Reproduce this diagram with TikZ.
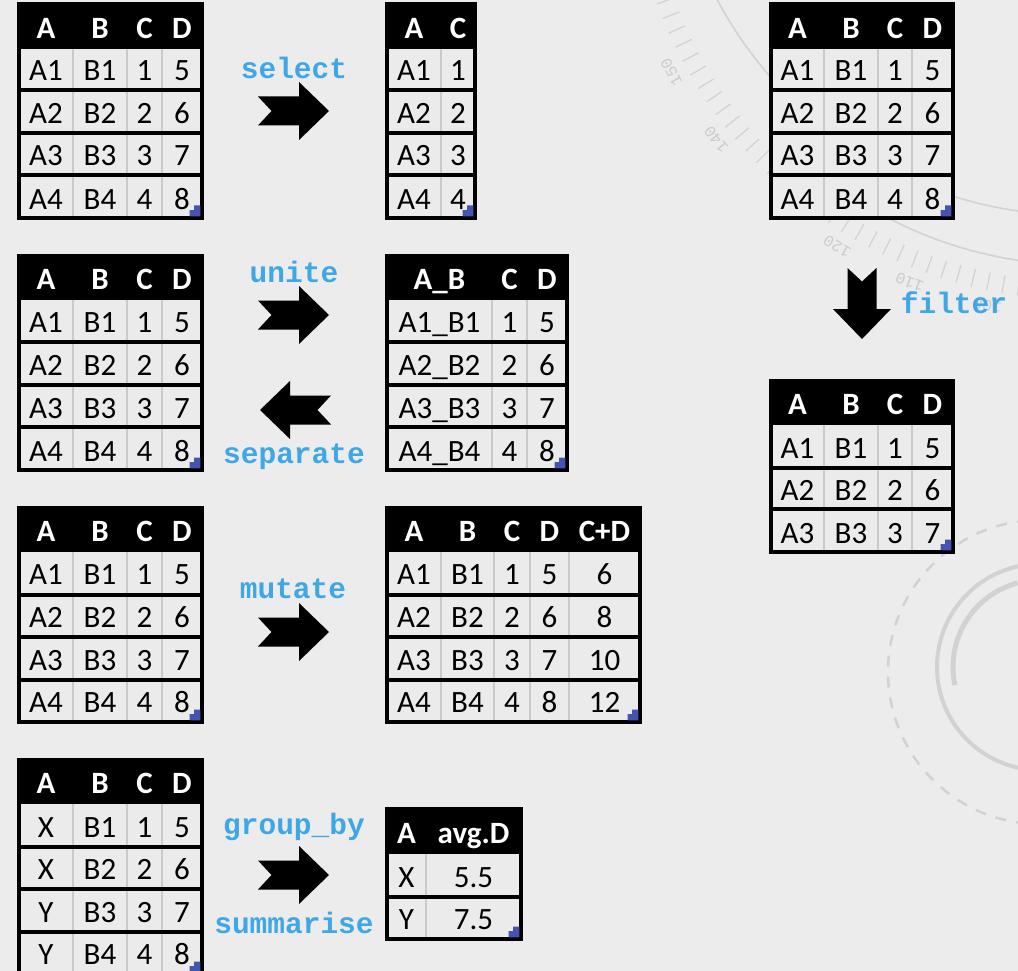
\documentclass[tikz,border=0pt]{standalone}
\usepackage{fontspec}
\setmainfont{Carlito}
\newfontfamily\lblfont{Liberation Mono}
\definecolor{bg}{HTML}{ECECEC}
\definecolor{cellbg}{HTML}{EBEBEB}
\definecolor{gridgrey}{HTML}{CACACA}
\definecolor{lblblue}{HTML}{3FA7E6}
\definecolor{markblue}{HTML}{4454B0}
\definecolor{deco}{HTML}{D2D2D2}
\definecolor{decotxt}{HTML}{CBCBCB}
\tikzset{
  tcell/.style={anchor=base,inner sep=0pt,font=\fontsize{31}{31}\selectfont,text=black},
  thead/.style={anchor=base,inner sep=0pt,font=\fontsize{31}{31}\selectfont\bfseries,text=white},
  oplabel/.style={anchor=base,inner sep=0pt,font=\lblfont\fontsize{29.5}{30}\selectfont\bfseries,text=lblblue},
  vgrid/.style={draw=gridgrey,line width=2.5pt},
  hrule/.style={draw=black,line width=3.5pt},
  tblframe/.style={draw=black,line width=3.5pt},
  decoline/.style={draw=deco,line width=1.6pt},
  blockarrow/.pic={\fill[black] (0,-14.5) -- (41,-14.5) -- (41,-29) -- (71,0) -- (41,29) -- (41,14.5) -- (0,14.5) -- (13.5,0) -- cycle;},
}
\newcommand\tmark[2]{\fill[markblue] ({#1-12.5},{#2-1.75}) -- ({#1-12.5},{#2-8}) -- ({#1-8},{#2-8}) -- ({#1-8},{#2-12.5}) -- ({#1-1.75},{#2-12.5}) -- ({#1-1.75},{#2-1.75}) -- cycle;}
% x0 x1 y0 yh yb innerx innery
\newcommand\drawtable[7]{%
  \fill[cellbg] (#1,#4) rectangle (#2,#5);
  \fill[black] (#1,#3) rectangle (#2,#4);
  \foreach \gx in {#6} {\draw[vgrid] (\gx,#4) -- (\gx,#5);}
  \foreach \gy in {#7} {\draw[hrule] (#1,\gy) -- (#2,\gy);}
  \draw[tblframe] (#1,#3) rectangle (#2,#5);
  \tmark{#2}{#5}%
}
\newcommand\trow[4]{\foreach \cx/\tx [count=\k] in {#4} {\node[#2] (#1-\k) at (\cx,#3) {\tx};}}
\begin{document}
\begin{tikzpicture}[x=1pt,y=-1pt]
\path[use as bounding box,clip] (0,0) rectangle (1018,971);
\fill[bg] (0,0) rectangle (1018,971);
% background decorations (faint protractor and rings)
\draw[decoline] plot[domain=80:160,samples=60] ({1075+405*cos(\x)},{-190+405*sin(\x)});
\draw[decoline] plot[domain=88:122,samples=40] ({1080+415*cos(\x)},{-150+415*sin(\x)});
\foreach \a in {92,94,...,160} {\draw[draw=deco,line width=1.2pt] ({1080+432*cos(\a)},{-150+432*sin(\a)}) -- ({1080+450*cos(\a)},{-150+450*sin(\a)});}
\foreach \n in {150,140,120,110,100} {\node[text=decotxt,font=\lblfont\fontsize{16}{16}\selectfont,rotate={268.5-\n}] (deco\n) at ({1080+465*cos(\n+1.5)},{-150+465*sin(\n+1.5)}) {\n};}
\draw[draw=deco,line width=4pt] (1040,667) circle[radius=103];
\draw[draw=deco,line width=5pt] plot[domain=168:255,samples=40] ({1040+87*cos(\x)},{667+87*sin(\x)});
\draw[draw=deco,line width=2.5pt,dash pattern=on 11pt off 10pt] (1040,672) circle[radius=152];

% ---- select ----
\drawtable{19}{202}{4}{49}{218}{73,127,162}{90,133,175}
\trow{t1h}{thead}{38.5}{46/A,100/B,144.5/C,182/D}
\trow{t1a}{tcell}{81}{46/A1,100/B1,144.5/1,182/5}
\trow{t1b}{tcell}{124}{46/A2,100/B2,144.5/2,182/6}
\trow{t1c}{tcell}{166}{46/A3,100/B3,144.5/3,182/7}
\trow{t1d}{tcell}{209}{46/A4,100/B4,144.5/4,182/8}
\node[oplabel] (lselect) at (294,79) {select};
\pic at (258,111) {blockarrow};
\drawtable{387}{475}{4}{49}{218}{441}{90,133,175}
\trow{s1h}{thead}{38.5}{414/A,458/C}
\trow{s1a}{tcell}{81}{414/A1,458/1}
\trow{s1b}{tcell}{124}{414/A2,458/2}
\trow{s1c}{tcell}{166}{414/A3,458/3}
\trow{s1d}{tcell}{209}{414/A4,458/4}

% ---- filter ----
\drawtable{771}{953}{4}{49}{218}{824,878,912}{90,133,175}
\trow{f0h}{thead}{38.5}{797.5/A,851/B,895/C,932.5/D}
\trow{f0a}{tcell}{81}{797.5/A1,851/B1,895/1,932.5/5}
\trow{f0b}{tcell}{124}{797.5/A2,851/B2,895/2,932.5/6}
\trow{f0c}{tcell}{166}{797.5/A3,851/B3,895/3,932.5/7}
\trow{f0d}{tcell}{209}{797.5/A4,851/B4,895/4,932.5/8}
\pic[rotate=-90] at (862,268) {blockarrow};
\node[oplabel] (lfilter) at (954,313) {filter};
\drawtable{771}{953}{381}{425}{552}{824,878,912}{468,509}
\trow{f1h}{thead}{414.5}{797.5/A,851/B,895/C,932.5/D}
\trow{f1a}{tcell}{458.5}{797.5/A1,851/B1,895/1,932.5/5}
\trow{f1b}{tcell}{500}{797.5/A2,851/B2,895/2,932.5/6}
\trow{f1c}{tcell}{543}{797.5/A3,851/B3,895/3,932.5/7}

% ---- unite / separate ----
\drawtable{19}{202}{256}{300}{470}{73,127,162}{342,385,427}
\trow{t2h}{thead}{289.5}{46/A,100/B,144.5/C,182/D}
\trow{t2a}{tcell}{332.5}{46/A1,100/B1,144.5/1,182/5}
\trow{t2b}{tcell}{375.5}{46/A2,100/B2,144.5/2,182/6}
\trow{t2c}{tcell}{418}{46/A3,100/B3,144.5/3,182/7}
\trow{t2d}{tcell}{461}{46/A4,100/B4,144.5/4,182/8}
\node[oplabel] (lunite) at (294,282) {unite};
\pic at (258,315) {blockarrow};
\pic[xscale=-1] at (331,410) {blockarrow};
\node[oplabel] (lseparate) at (294,463) {separate};
\drawtable{387}{567}{256}{300}{470}{492,527}{342,385,427}
\trow{u1h}{thead}{289.5}{439.5/A\_B,509.5/C,547/D}
\trow{u1a}{tcell}{332.5}{439.5/A1\_B1,509.5/1,547/5}
\trow{u1b}{tcell}{375.5}{439.5/A2\_B2,509.5/2,547/6}
\trow{u1c}{tcell}{418}{439.5/A3\_B3,509.5/3,547/7}
\trow{u1d}{tcell}{461}{439.5/A4\_B4,509.5/4,547/8}

% ---- mutate ----
\drawtable{19}{202}{508}{552}{722}{73,127,162}{595,637,680}
\trow{t3h}{thead}{541.5}{46/A,100/B,144.5/C,182/D}
\trow{t3a}{tcell}{584.5}{46/A1,100/B1,144.5/1,182/5}
\trow{t3b}{tcell}{627}{46/A2,100/B2,144.5/2,182/6}
\trow{t3c}{tcell}{670}{46/A3,100/B3,144.5/3,182/7}
\trow{t3d}{tcell}{712}{46/A4,100/B4,144.5/4,182/8}
\node[oplabel] (lmutate) at (293,598) {mutate};
\pic at (258,632) {blockarrow};
\drawtable{387}{640}{508}{552}{722}{441,494,530,569}{595,637,680}
\trow{m1h}{thead}{541.5}{414/A,467.5/B,512/C,549.5/D,604.5/C+D}
\trow{m1a}{tcell}{584.5}{414/A1,467.5/B1,512/1,549.5/5,604.5/6}
\trow{m1b}{tcell}{627}{414/A2,467.5/B2,512/2,549.5/6,604.5/8}
\trow{m1c}{tcell}{670}{414/A3,467.5/B3,512/3,549.5/7,604.5/10}
\trow{m1d}{tcell}{712}{414/A4,467.5/B4,512/4,549.5/8,604.5/12}

% ---- group_by / summarise ----
\drawtable{19}{202}{760}{804}{974}{73,127,162}{847,889,932}
\trow{t4h}{thead}{793.5}{46/A,100/B,144.5/C,182/D}
\trow{t4a}{tcell}{837.5}{46/X,100/B1,144.5/1,182/5}
\trow{t4b}{tcell}{879.5}{46/X,100/B2,144.5/2,182/6}
\trow{t4c}{tcell}{922.5}{46/Y,100/B3,144.5/3,182/7}
\trow{t4d}{tcell}{964.5}{46/Y,100/B4,144.5/4,182/8}
\node[oplabel] (lgroup) at (294,834) {group\_by};
\pic at (258,875) {blockarrow};
\node[oplabel] (lsumm) at (294,933) {summarise};
\drawtable{387}{521}{809}{854}{939}{426}{897}
\trow{g1h}{thead}{843.5}{406.5/A,473.5/avg.D}
\trow{g1a}{tcell}{887.5}{406.5/X,473.5/5.5}
\trow{g1b}{tcell}{929.5}{406.5/Y,473.5/7.5}
\end{tikzpicture}
\end{document}
